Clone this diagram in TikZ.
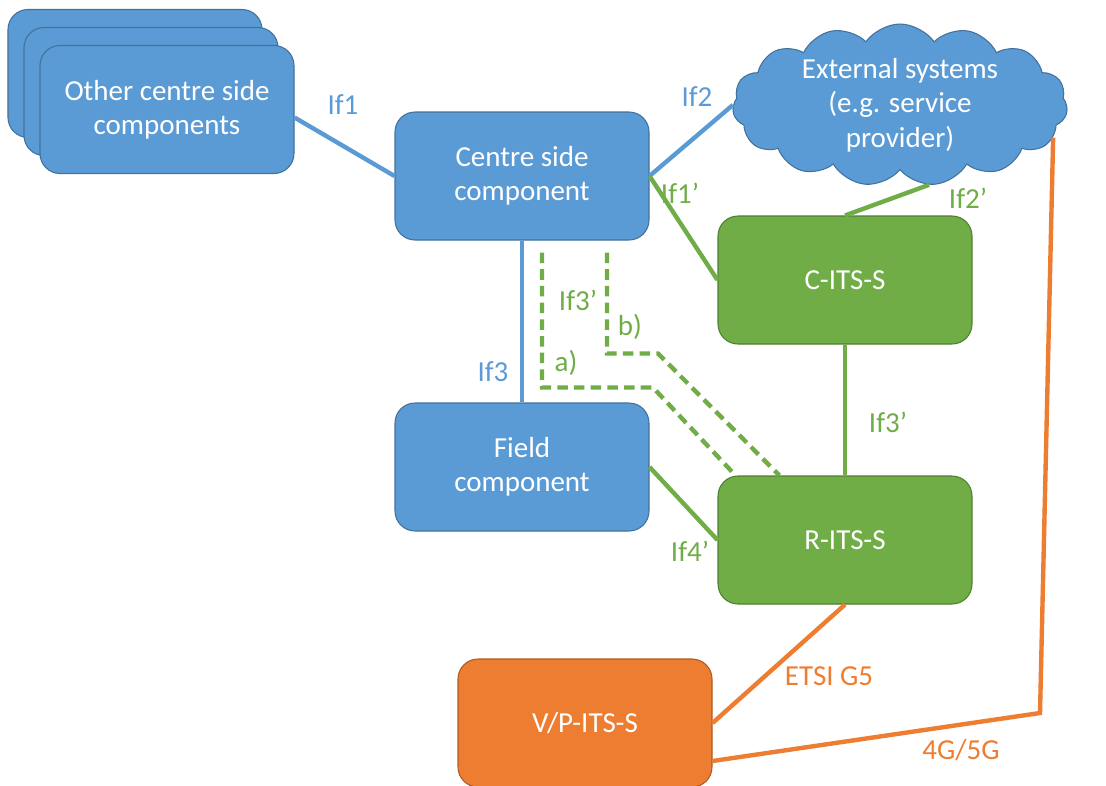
\documentclass[tikz,border=0pt]{standalone}
\usepackage{fontspec}
\setmainfont{Carlito}
\usetikzlibrary{positioning, shapes.symbols, calc}
\definecolor{cblue}{HTML}{5B9BD5}
\definecolor{cblueline}{HTML}{41719C}
\definecolor{cgreen}{HTML}{70AD47}
\definecolor{cgreenline}{HTML}{507E32}
\definecolor{corange}{HTML}{ED7D31}
\definecolor{corangeline}{HTML}{AE5A21}
\tikzstyle{comp} = [draw, rounded corners=0.4cm, minimum width=5.08cm, minimum height=2.56cm, align=center, text=white, font=\fontsize{16.5}{19.5}\selectfont, line width=0.6pt]
\tikzstyle{bluebox} = [comp, fill=cblue, draw=cblueline]
\tikzstyle{greenbox} = [comp, fill=cgreen, draw=cgreenline]
\tikzstyle{orangebox} = [comp, fill=corange, draw=corangeline]
\tikzstyle{lbl} = [font=\fontsize{16.5}{19.5}\selectfont, inner sep=0pt]
\tikzstyle{link} = [line width=2.5pt]
\tikzstyle{dlink} = [link, cgreen, dash pattern=on 6pt off 3.5pt]

\begin{document}
\begin{tikzpicture}[node distance=1.5cm,on grid]
	\useasboundingbox (0,0) rectangle (22.12,-15.7);
	\node[bluebox](cs_1) at (10.44,-3.52){Centre side\\component};
	\node[bluebox][below=5.82cm of cs_1](fc_1){Field\\component};
	\node[bluebox][above left=2.05cm and 7.74cm of cs_1](oc_3){};
	\node[bluebox][below right=0.36cm and 0.32cm of oc_3](oc_2){};
	\node[bluebox][below right=0.36cm and 0.32cm of oc_2](oc_1){Other centre side\\components};
	\node[cloud, cloud puffs=15, cloud puff arc=110, aspect=2.3, minimum width=6.7cm, minimum height=3.0cm, fill=cblue, draw=cblueline, line width=0.6pt, text=white, align=center, inner sep=0pt, font=\fontsize{16.5}{19.5}\selectfont][above right=1.42cm and 7.56cm of cs_1](ext_1){External systems\\(e.g. service\\provider)};
	\node[greenbox][below right=2.08cm and 6.46cm of cs_1](cits_1){C-ITS-S};
	\node[greenbox][below=5.2cm of cits_1](rits_1){R-ITS-S};
	\node[orangebox][below left=3.66cm and 5.2cm of rits_1](vp_1){V/P-ITS-S};
	\coordinate (bend_1) at (20.8,-14.26);
	% interface labels
	\node[lbl, cblue] (l_1) at (6.86,-2.1) {If1};
	\node[lbl, cblue] (l_2) at (13.94,-1.94) {If2};
	\node[lbl, cgreen] (l_3) at (13.6,-3.86) {If1’};
	\node[lbl, cgreen] (l_4) at (19.36,-3.96) {If2’};
	\node[lbl, cblue] (l_5) at (9.86,-7.44) {If3};
	\node[lbl, cgreen] (l_6) at (11.56,-6.0) {If3’};
	\node[lbl, cgreen] (l_7) at (11.32,-7.26) {a)};
	\node[lbl, cgreen] (l_8) at (12.6,-6.54) {b)};
	\node[lbl, cgreen] (l_9) at (17.76,-8.44) {If3’};
	\node[lbl, cgreen] (l_10) at (13.8,-11.02) {If4’};
	\node[lbl, corange] (l_11) at (16.58,-13.52) {ETSI G5};
	\node[lbl, corange] (l_12) at (19.22,-15.0) {4G/5G};
    \path[link, cblue]
    ([yshift=-0.16cm]oc_1.east) edge (cs_1.west)
    (cs_1.east) edge (ext_1.west)
    (cs_1) edge (fc_1);
    \path[link, cgreen]
    (cs_1.east) edge (cits_1.west)
    (ext_1.290) edge (cits_1.north)
    (cits_1) edge (rits_1)
    (fc_1.east) edge (rits_1.west);
    \path[link, corange]
    (rits_1.south) edge (vp_1.east);
    \draw[link, corange] ([yshift=-0.76cm]vp_1.east) -- (bend_1) -- (ext_1.348);
    \draw[dlink] ([xshift=0.4cm,yshift=-0.24cm]cs_1.south) -- ++(0,-2.7) -- ++(2.22,0) -- ([xshift=0.36cm]rits_1.north west);
    \draw[dlink] ([xshift=1.7cm,yshift=-0.24cm]cs_1.south) -- ++(0,-2.02) -- ++(1.02,0) -- ([xshift=1.24cm]rits_1.north west);
\end{tikzpicture}
\end{document}
